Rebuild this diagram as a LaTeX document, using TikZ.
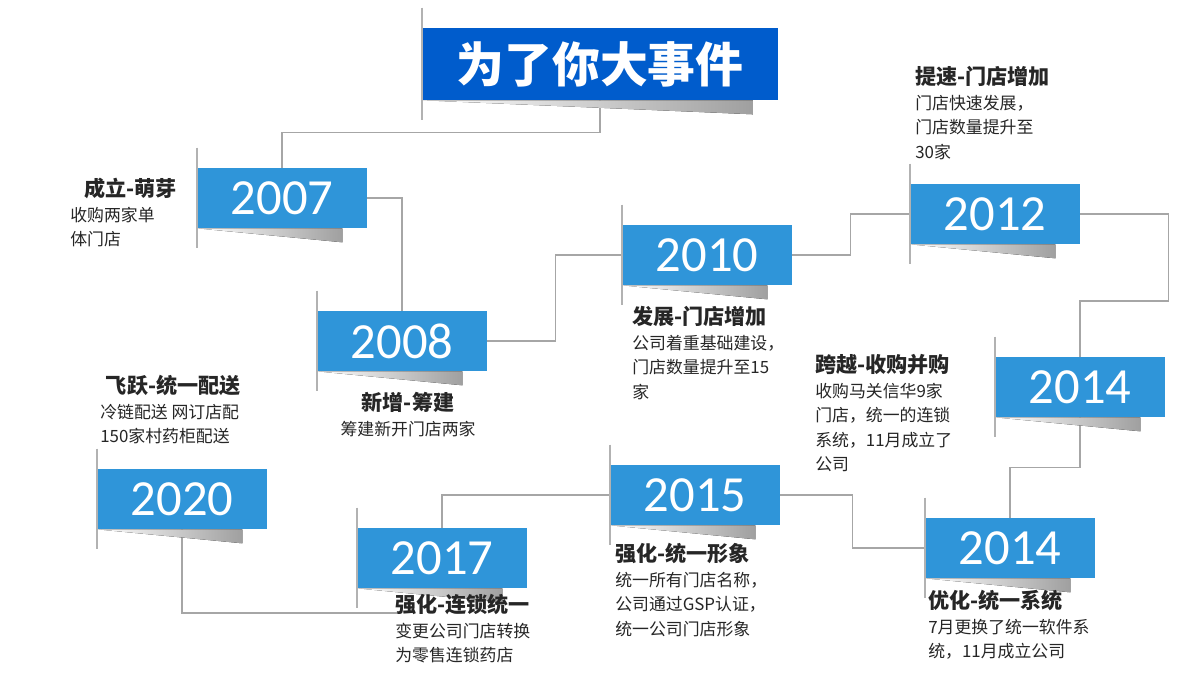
\documentclass[tikz,border=0pt]{standalone}
\usepackage{fontspec}
\setmainfont{Noto Sans CJK SC}
\newfontfamily\yearfont{Carlito}
\usetikzlibrary{calc, positioning}

\tikzset{
  yearbox/.style={rectangle, fill=cyan!70!blue!85, text=white, minimum width=4.25cm, minimum height=1.5cm, inner sep=0pt, font=\yearfont\fontsize{36}{36}\selectfont},
  titlebox/.style={rectangle, fill=blue!55!cyan!80!black, text=white, minimum width=8.875cm, minimum height=1.8cm, inner sep=0pt, font=\bfseries\fontsize{34}{34}\selectfont},
  link/.style={draw=gray!70, line width=0.9pt},
  note/.style={align=left, inner sep=0pt, anchor=north west, font=\fontsize{12}{17.5}\selectfont, text=black!85},
  head/.style={font=\bfseries\fontsize{15}{18}\selectfont}
}
% fold shadow under a ribbon
\newcommand{\ribbonfold}[1]{
  \fill[left color=white, right color=gray!75] (#1.south west) -- ($(#1.south east)+(-25,0)$) -- ($(#1.south east)+(-25,14)$) -- cycle;
  \draw[gray!60, line width=1.6pt] ($(#1.north west)+(0,-20)$) -- ($(#1.south west)+(0,20)$);
}

\begin{document}
\begin{tikzpicture}[x=0.025cm, y=-0.025cm]
  \useasboundingbox (0,0) rectangle (1200,675);
  \fill[white] (0,0) rectangle (1200,675);

  % Ribbons
  \node[titlebox] (title) at (600,64) {为了你大事件};
  \node[yearbox] (y2007) at (282,198) {2007};
  \node[yearbox] (y2008) at (402,341) {2008};
  \node[yearbox] (y2010) at (707,255) {2010};
  \node[yearbox] (y2012) at (995,214) {2012};
  \node[yearbox] (y2014a) at (1080,387) {2014};
  \node[yearbox] (y2020) at (182,499) {2020};
  \node[yearbox] (y2015) at (695,495) {2015};
  \node[yearbox] (y2017) at (442,558) {2017};
  \node[yearbox] (y2014b) at (1010,548) {2014};
  \coordinate (c2017) at (400,613);

  % Connections
  \draw[link] (title.south) -- ++(0,32) -| (y2007.north);
  \draw[link] (y2007.east) -| (y2008.north);
  \draw[link] (y2008.east) -- ++(68,0) |- (y2010.west);
  \draw[link] (y2010.east) -- ++(58,0) |- (y2012.west);
  \draw[link] (y2012.east) -- ++(88,0) -- ++(0,87) -| (y2014a.north);
  \draw[link] (y2014a.south) -- ++(0,50) -| (y2014b.north);
  \draw[link] (y2014b.west) -- ++(-72,0) |- (y2015.east);
  \draw[link] (y2015.west) -| (y2017.north);
  \draw[link] (y2020.south) |- (c2017);

  \foreach \n in {title, y2007, y2008, y2010, y2012, y2014a, y2020, y2015, y2017, y2014b}
    {\ribbonfold{\n}}

  % Labels
  \node[note] (t2007) at (70,178) {\hspace*{10pt}{\bfseries\fontsize{15}{18}\selectfont 成立-萌芽}\\收购两家单\\体门店};
  \node[note] (t2012) at (915,66) {{\bfseries\fontsize{15}{18}\selectfont 提速-门店增加}\\门店快速发展，\\门店数量提升至\\30家};
  \node[note] (t2010) at (632,306) {{\bfseries\fontsize{15}{18}\selectfont 发展-门店增加}\\公司着重基础建设，\\门店数量提升至15\\家};
  \node[note] (t2014a) at (815,354) {{\bfseries\fontsize{15}{18}\selectfont 跨越-收购并购}\\收购马关信华9家\\门店，统一的连锁\\系统，11月成立了\\公司};
  \node[note] (t2020) at (100,375) {\hspace*{4pt}{\bfseries\fontsize{15}{18}\selectfont 飞跃-统一配送}\\冷链配送 网订店配\\150家村药柜配送};
  \node[note, align=center, anchor=north] (t2008) at (408,392) {{\bfseries\fontsize{15}{18}\selectfont 新增-筹建}\\筹建新开门店两家};
  \node[note] (t2017) at (395,594) {{\bfseries\fontsize{15}{18}\selectfont 强化-连锁统一}\\变更公司门店转换\\为零售连锁药店};
  \node[note] (t2015) at (615,543) {{\bfseries\fontsize{15}{18}\selectfont 强化-统一形象}\\统一所有门店名称，\\公司通过GSP认证，\\统一公司门店形象};
  \node[note] (t2014b) at (928,590) {{\bfseries\fontsize{15}{18}\selectfont 优化-统一系统}\\7月更换了统一软件系\\统，11月成立公司};
\end{tikzpicture}
\end{document}
